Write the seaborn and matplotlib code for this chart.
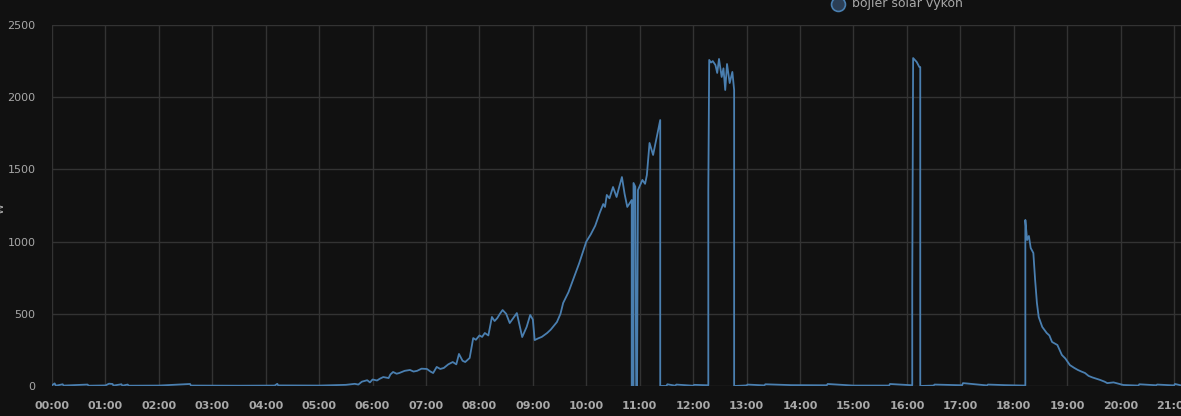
import pandas as pd
import matplotlib.pyplot as plt
import seaborn as sns
from matplotlib.lines import Line2D

sns.set_theme(style="dark")

# readings of "bojler solar výkon" (W), time as HH:MM
times = [
    "00:00", "00:03", "00:04", "00:06", "00:12", "00:13", "00:40", "00:41", "01:00", "01:04",
    "01:08", "01:09", "01:18", "01:19", "01:25", "01:26", "02:00", "02:35", "02:36", "03:30",
    "04:10", "04:13", "04:14", "05:00", "05:30", "05:40", "05:44", "05:48", "05:54", "05:57",
    "06:00", "06:05", "06:08", "06:12", "06:18", "06:20", "06:23", "06:27", "06:30", "06:36",
    "06:42", "06:46", "06:50", "06:55", "07:01", "07:05", "07:08", "07:12", "07:16", "07:20",
    "07:25", "07:30", "07:34", "07:37", "07:41", "07:44", "07:49", "07:53", "07:56", "08:00",
    "08:03", "08:06", "08:10", "08:14", "08:17", "08:20", "08:23", "08:26", "08:30", "08:34",
    "08:38", "08:42", "08:48", "08:53", "08:57", "09:00", "09:02", "09:06", "09:10", "09:16",
    "09:20", "09:24", "09:27", "09:31", "09:34", "09:40", "09:45", "09:52", "10:00", "10:05",
    "10:10", "10:15", "10:19", "10:21", "10:23", "10:26", "10:30", "10:34", "10:37", "10:40",
    "10:43", "10:46", "10:51", "10:51", "10:53", "10:53", "10:55", "10:56", "10:57", "10:58",
    "11:03", "11:06", "11:08", "11:11", "11:15", "11:23", "11:23", "11:30", "11:31", "11:40",
    "11:41", "12:00", "12:01", "12:17", "12:17", "12:18", "12:20", "12:22", "12:25", "12:27",
    "12:29", "12:32", "12:34", "12:36", "12:38", "12:41", "12:44", "12:46", "12:46", "13:00",
    "13:01", "13:20", "13:21", "13:50", "14:30", "14:31", "15:00", "15:40", "15:41", "16:06",
    "16:06", "16:07", "16:11", "16:14", "16:15", "16:15", "16:30", "16:31", "17:02", "17:03",
    "17:30", "17:31", "17:50", "18:13", "18:13", "18:15", "18:17", "18:19", "18:22", "18:24",
    "18:26", "18:28", "18:32", "18:37", "18:40", "18:43", "18:49", "18:54", "18:58", "19:03",
    "19:08", "19:12", "19:16", "19:20", "19:24", "19:28", "19:33", "19:37", "19:42", "19:45",
    "19:52", "20:03", "20:20", "20:21", "20:40", "20:41", "21:00", "21:01", "21:08",
]
power = [
    5, 18, 4, 4, 12, 3, 10, 2, 4, 16,
    14, 3, 12, 2, 10, 2, 3, 14, 3, 2,
    3, 15, 4, 3, 8, 15, 10, 30, 40, 25,
    45, 38, 50, 62, 55, 80, 97, 85, 90, 105,
    111, 100, 105, 120, 118, 100, 90, 132, 118, 125,
    150, 166, 150, 222, 175, 166, 194, 332, 320, 350,
    340, 367, 350, 478, 450, 470, 500, 526, 500, 436,
    470, 505, 339, 409, 492, 460, 318, 330, 340, 367,
    390, 420, 443, 500, 575, 650, 734, 850, 1000, 1050,
    1110, 1198, 1260, 1240, 1323, 1300, 1378, 1309, 1380, 1447,
    1330, 1240, 1288, 0, 0, 1406, 1380, 0, 0, 1357,
    1427, 1400, 1461, 1683, 1600, 1842, 0, 0, 12, 2,
    10, 2, 8, 5, 1357, 2258, 2240, 2250, 2223, 2168,
    2265, 2140, 2200, 2050, 2230, 2098, 2175, 2050, 0, 4,
    10, 4, 12, 6, 5, 14, 3, 3, 14, 5,
    685, 2271, 2244, 2209, 2209, 0, 3, 10, 5, 20,
    4, 10, 6, 3, 1150, 1011, 1039, 956, 921, 734,
    575, 478, 409, 367, 350, 305, 284, 215, 190, 145,
    125, 111, 100, 90, 70, 60, 50, 42, 30, 20,
    25, 7, 3, 12, 5, 10, 4, 14, 4,
]
hour_labels = [f"{h:02d}:00" for h in range(22)]

df = pd.DataFrame({"time": times, "power": power})
t = pd.to_timedelta(df["time"] + ":00")
df["hours"] = t.dt.total_seconds() / 3600

bg = "#111111"
grid = "#333333"
line_col = "#4a7fb0"
txt = "#a8a8a8"

fig = plt.figure(figsize=(11.81, 4.16), dpi=100, facecolor=bg)
ax = fig.add_axes([52 / 1181, 1 - 386 / 416, 1 - 52 / 1181, (386 - 25) / 416])
ax.set_facecolor(bg)

sns.lineplot(data=df, x="hours", y="power", estimator=None, sort=False,
             color=line_col, linewidth=1.3, ax=ax)

ax.set_xlim(0, 21.13)
ax.set_ylim(0, 2500)
ax.set_xticks(range(22))
ax.set_xticklabels(hour_labels, fontweight="bold")
ax.set_yticks([0, 500, 1000, 1500, 2000, 2500])
ax.grid(True, color=grid, linewidth=1)
for s in ax.spines.values():
    s.set_visible(False)
ax.tick_params(axis="x", length=6, width=1, color=grid, colors=txt, labelsize=8, pad=5)
ax.tick_params(axis="y", length=8, width=1, color=grid, colors=txt, labelsize=8, pad=4)
ax.tick_params(axis="both", color=grid)
ax.set_xlabel("")
ax.set_ylabel("")

# legend at the top, partly cut off
fig.add_artist(Line2D([838 / 1181], [1 - 4 / 416], marker="o", markersize=10,
                      markerfacecolor="#2b3e55", markeredgecolor=line_col,
                      markeredgewidth=1.2, transform=fig.transFigure))
fig.text(852 / 1181, 1 - 4 / 416, "bojler solar výkon", color=txt, fontsize=9,
         va="center", ha="left")
fig.text(-0.004, 0.5, "W", color=txt, fontsize=8, rotation=90, va="center", ha="left")

fig.savefig("out.png", dpi=100, facecolor=bg)
